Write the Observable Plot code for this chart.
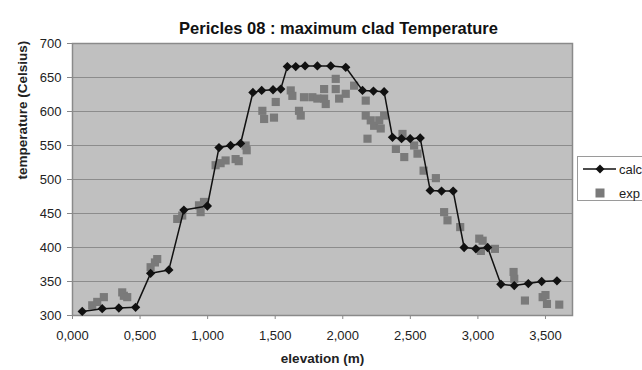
<!DOCTYPE html>
<html>
<head>
<meta charset="utf-8">
<script src="https://cdn.jsdelivr.net/npm/d3@7"></script>
<script src="https://cdn.jsdelivr.net/npm/@observablehq/plot@0.6"></script>
<style>
  html, body { margin: 0; padding: 0; background: #fff; overflow: hidden; }
  #wrap { position: relative; width: 642px; height: 370px; }
  #legend { position: absolute; left: 577px; top: 156px; width: 90px; height: 45px;
            border: 1px solid #9a9a9a; background: #fff; box-sizing: border-box;
            font-family: "Liberation Sans", Arial, sans-serif; font-size: 13px; color: #222; }
</style>
</head>
<body>
<div id="wrap"></div>
<script>
const title = "Pericles 08 : maximum clad Temperature";
const xLabel = "elevation (m)";
const yLabel = "temperature (Celsius)";
const seriesNames = ["calc", "exp"];
const xTicks = [0, 0.5, 1, 1.5, 2, 2.5, 3, 3.5];
const yTicks = [300, 350, 400, 450, 500, 550, 600, 650, 700];

// calc series
const calcX = [0.072, 0.220, 0.343, 0.467, 0.578, 0.713, 0.824, 0.998, 1.084, 1.170, 1.244,
  1.335, 1.400, 1.484, 1.541, 1.590, 1.652, 1.721, 1.812, 1.911, 2.022, 2.146, 2.227, 2.306,
  2.368, 2.435, 2.499, 2.573, 2.647, 2.731, 2.817, 2.898, 2.985, 3.072, 3.170, 3.269, 3.373,
  3.472, 3.585];
const calcY = [306, 310, 311, 312, 362, 367, 455, 461, 547, 550, 553,
  628, 631, 632, 633, 666, 666, 667, 667, 667, 665, 631, 630, 629,
  562, 560, 560, 561, 484, 483, 483, 400, 398, 400, 346, 344, 347,
  350, 351];

// exp series
const expX = [0.146, 0.183, 0.232, 0.368, 0.380, 0.405, 0.578, 0.610, 0.627, 0.775, 0.812,
  0.936, 0.948, 0.973, 1.059, 1.096, 1.133, 1.207, 1.230, 1.281, 1.289, 1.405, 1.418, 1.491,
  1.504, 1.615, 1.627, 1.676, 1.689, 1.713, 1.775, 1.812, 1.862, 1.862, 1.874, 1.948, 1.948,
  1.973, 2.022, 2.084, 2.170, 2.170, 2.183, 2.207, 2.232, 2.270, 2.281, 2.306, 2.393, 2.442,
  2.455, 2.528, 2.553, 2.598, 2.689, 2.750, 2.775, 2.869, 3.010, 3.035, 3.022, 3.126, 3.264,
  3.269, 3.348, 3.479, 3.500, 3.511, 3.602];
const expY = [315, 320, 327, 334, 329, 327, 371, 378, 383, 442, 447,
  462, 452, 467, 521, 524, 528, 530, 527, 550, 543, 601, 589, 591,
  614, 631, 623, 601, 594, 621, 621, 619, 633, 619, 611, 648, 633,
  619, 626, 638, 616, 594, 560, 587, 579, 587, 575, 594, 545, 567,
  533, 550, 538, 513, 502, 452, 440, 430, 413, 410, 395, 398, 364,
  354, 322, 327, 330, 317, 316];

const calc = calcX.map((x, i) => ({x, y: calcY[i]}));
const exp = expX.map((x, i) => ({x, y: expY[i]}));

const font = '"Liberation Sans", Arial, sans-serif';
const fmt = d => d3.format(".3f")(d).replace(".", ",");

const chart = Plot.plot({
  width: 642,
  height: 370,
  marginTop: 43,
  marginRight: 70,
  marginBottom: 55,
  marginLeft: 72,
  style: {fontFamily: font, fontSize: "13px", color: "#222", background: "#fff", overflow: "visible"},
  x: {domain: [0, 3.7]},
  y: {domain: [300, 700]},
  marks: [
    Plot.frame({fill: "#c0c0c0"}),
    Plot.gridY(yTicks, {stroke: "#8c8c8c", strokeOpacity: 1, strokeWidth: 1}),
    Plot.axisX({ticks: xTicks, tickFormat: fmt, tickSize: 4, tickPadding: 11, label: null, stroke: "#888"}),
    Plot.axisY({ticks: yTicks, tickSize: 5, tickPadding: 6, label: null, stroke: "#888"}),
    Plot.frame({stroke: "#8a8a8a", strokeWidth: 1.5}),
    Plot.dot(exp, {x: "x", y: "y", symbol: "square", r: 4.6, fill: "#7a7a7a", stroke: "none"}),
    Plot.line(calc, {x: "x", y: "y", stroke: "#111", strokeWidth: 1.5}),
    Plot.dot(calc, {x: "x", y: "y", symbol: "diamond2", r: 4.2, fill: "#111", stroke: "none"}),
    Plot.text([title], {frameAnchor: "top", dy: -21, dx: 16, fontWeight: "bold", fontSize: 16.5, fill: "#111"}),
    Plot.text([xLabel], {frameAnchor: "bottom", dy: 47, fontWeight: "bold", fontSize: 13.5, fill: "#222"}),
    Plot.text([yLabel], {frameAnchor: "left", dx: -50, rotate: -90, fontWeight: "bold", fontSize: 13.5, fill: "#222"})
  ]
});

const wrap = document.getElementById("wrap");
wrap.appendChild(chart);

// legend
const legend = document.createElement("div");
legend.id = "legend";
legend.innerHTML = `
<svg width="90" height="45" style="position:absolute;left:0;top:0;overflow:visible">
  <line x1="5" x2="38" y1="12" y2="12" stroke="#111" stroke-width="1.5"/>
  <path d="M22,7.5 L26.5,12 L22,16.5 L17.5,12 Z" fill="#111"/>
  <rect x="17.5" y="31.5" width="9" height="9" fill="#7a7a7a"/>
  <text x="41" y="16.5" font-size="13" fill="#222" font-family='Liberation Sans, Arial, sans-serif'>${seriesNames[0]}</text>
  <text x="41" y="40.5" font-size="13" fill="#222" font-family='Liberation Sans, Arial, sans-serif'>${seriesNames[1]}</text>
</svg>`;
wrap.appendChild(legend);
</script>
</body>
</html>
